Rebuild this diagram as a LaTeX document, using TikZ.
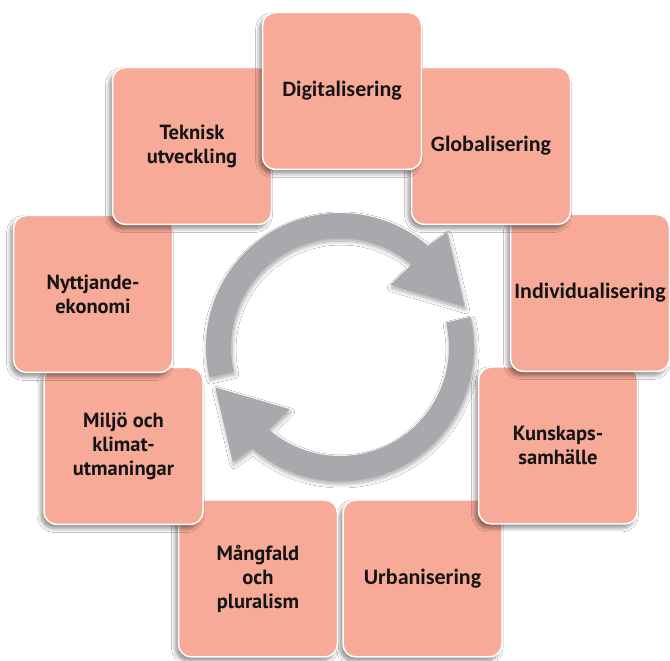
\documentclass[tikz,border=0pt]{standalone}
\usepackage{fontspec}
\setmainfont{PT Sans}
\newfontfamily\carlito{Carlito}
\usetikzlibrary{calc,shadows.blur}
\definecolor{salmon}{RGB}{247,170,152}
\definecolor{ringgray}{RGB}{167,169,172}
\tikzset{
  box/.style={draw=white, line width=1.5pt, fill=salmon, rounded corners=13pt,
    minimum width=159pt, minimum height=157pt, inner sep=0pt, align=center,
    text=black!92, font=\bfseries\fontsize{20.5}{24}\selectfont,
    blur shadow={shadow xshift=-3pt, shadow yshift=-4pt, shadow blur steps=8, shadow opacity=45, shadow blur radius=4pt}},
  cbox/.style={box, font=\carlito\bfseries\fontsize{22}{26}\selectfont},
  ring/.style={fill=ringgray, draw=none,
    blur shadow={shadow xshift=1pt, shadow yshift=-3pt, shadow blur steps=8, shadow opacity=35, shadow blur radius=4pt}}
}
\begin{document}
\begin{tikzpicture}[x=1pt,y=1pt]
\useasboundingbox[fill=white] (0,0) rectangle (670,661);
\coordinate (C) at (340,314);
% circular arrows
\path[ring] ($(C)+(193:134pt)$) arc[start angle=193, end angle=49, radius=134pt]
  -- ($(C)+(47:157pt)$) -- ($(C)+(18:131pt)$) -- ($(C)+(51:80pt)$)
  -- ($(C)+(49:109pt)$) arc[start angle=49, end angle=193, radius=109pt] -- cycle;
\path[ring] ($(C)+(13:134pt)$) arc[start angle=13, end angle=-131, radius=134pt]
  -- ($(C)+(227:157pt)$) -- ($(C)+(198:131pt)$) -- ($(C)+(231:80pt)$)
  -- ($(C)+(229:109pt)$) arc[start angle=-131, end angle=13, radius=109pt] -- cycle;
% boxes, bottom layer first
\node[box] (urb) at (422.5,82.5) {\carlito\fontsize{22}{26}\selectfont Urbanisering};
\node[box] (mang) at (258,82.5) {Mångfald\\och\\pluralism};
\node[box] (kun) at (558,215.5) {Kunskaps-\\samhälle};
\node[box] (milj) at (123.5,215) {Miljö och\\klimat-\\utmaningar};
\node[cbox] (ind) at (590,368) {Individualisering};
\node[box] (nytt) at (93,367) {Nyttjande-\\ekonomi};
\node[cbox] (glob) at (491,515) {Globalisering};
\node[box] (tek) at (192,515) {Teknisk\\utveckling};
\node[cbox] (dig) at (342,570) {Digitalisering};
\end{tikzpicture}
\end{document}
